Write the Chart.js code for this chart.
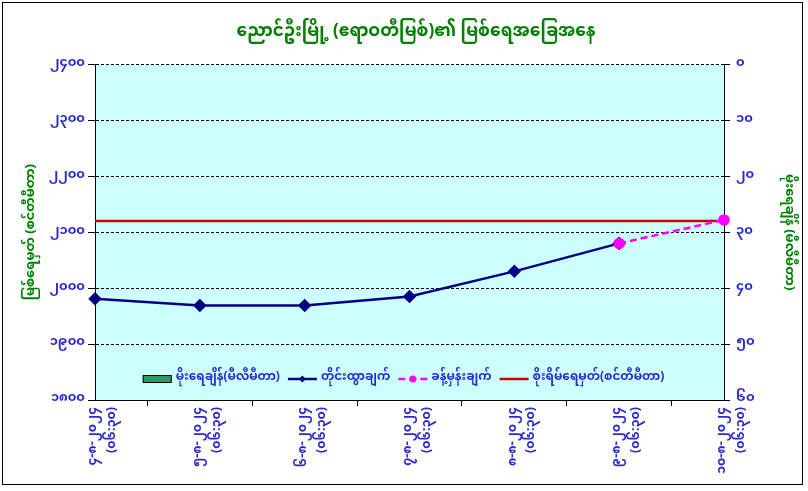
<!DOCTYPE html>
<html>
<head>
<meta charset="utf-8">
<script src="https://cdn.jsdelivr.net/npm/chart.js@4.4.1/dist/chart.umd.min.js"></script>
<style>
  html, body { margin: 0; padding: 0; background: #fff; }
  #wrap { position: absolute; left: 0; top: 0; width: 808px; height: 491px; }
</style>
</head>
<body>
<div id="wrap"><canvas id="graphic"></canvas></div>
<script>
// categories (date + time on two lines)
var categories = [
    ['၄-၈-၂၀၂၄', '(၀၆:၃၀)'],
    ['၅-၈-၂၀၂၄', '(၀၆:၃၀)'],
    ['၆-၈-၂၀၂၄', '(၀၆:၃၀)'],
    ['၇-၈-၂၀၂၄', '(၀၆:၃၀)'],
    ['၈-၈-၂၀၂၄', '(၀၆:၃၀)'],
    ['၉-၈-၂၀၂၄', '(၀၆:၃၀)'],
    ['၁၀-၈-၂၀၂၄', '(၀၆:၃၀)']
];
// series values
var rainfall = [null, null, null, null, null, null, null];
var observed = [1981, 1969, 1969, 1985, 2030, 2080, null];
var forecast = [null, null, null, null, null, 2080, 2122];
var danger = [2120, 2120, 2120, 2120, 2120, 2120, 2120];
// tick labels
var leftTickValues = [1800, 1900, 2000, 2100, 2200, 2300, 2400];
var leftTickLabels = ['၁၈၀၀', '၁၉၀၀', '၂၀၀၀', '၂၁၀၀', '၂၂၀၀', '၂၃၀၀', '၂၄၀၀'];
var rightTickValues = [0, 10, 20, 30, 40, 50, 60];
var rightTickLabels = ['၀', '၁၀', '၂၀', '၃၀', '၄၀', '၅၀', '၆၀'];

var MM = '"Noto Sans Myanmar", "Padauk", "Myanmar Text", "Noto Sans", sans-serif';
var blue = '#2a2ad0';
var green = '#008000';

function labelFor(values, labels, v) {
    var i = values.indexOf(v);
    return i < 0 ? '' : labels[i];
}

const frameAndBg = {
    id: 'frameAndBg',
    beforeDraw(chart) {
        var ctx = chart.ctx, a = chart.chartArea;
        ctx.save();
        ctx.fillStyle = '#ffffff';
        ctx.fillRect(0, 0, chart.width, chart.height);
        ctx.strokeStyle = '#000';
        ctx.lineWidth = 1;
        ctx.strokeRect(2.5, 2.5, 800, 482);
        ctx.fillStyle = '#ccffff';
        ctx.fillRect(a.left, a.top, a.right - a.left, a.bottom - a.top);
        ctx.restore();
    }
};

// legend drawn inside the plot area, near the bottom
const innerLegend = {
    id: 'innerLegend',
    afterDraw(chart) {
        var ctx = chart.ctx, a = chart.chartArea;
        var ds = chart.data.datasets;
        var order = [0, 1, 2, 3];
        var sym = 29, gap = 4, between = 8;
        ctx.save();
        ctx.font = 'bold 12px ' + MM;
        var widths = order.map(i => sym + gap + ctx.measureText(ds[i].label).width);
        var total = widths.reduce((s, w) => s + w, 0) + between * (order.length - 1);
        var x = (a.left + a.right) / 2 - total / 2 - 6;
        var y = a.bottom - 21;
        order.forEach((i, k) => {
            var d = ds[i];
            if (d.type === 'bar') {
                ctx.fillStyle = d.backgroundColor;
                ctx.fillRect(x, y - 3.5, sym, 7);
                ctx.strokeStyle = '#000';
                ctx.lineWidth = 1;
                ctx.strokeRect(x + 0.5, y - 3.5, sym - 1, 7);
            } else {
                ctx.strokeStyle = d.borderColor;
                ctx.lineWidth = d.borderWidth;
                ctx.setLineDash(d.borderDash || []);
                ctx.beginPath();
                ctx.moveTo(x, y);
                ctx.lineTo(x + sym, y);
                ctx.stroke();
                ctx.setLineDash([]);
                if (d.pointRadius > 0) {
                    ctx.fillStyle = d.pointBackgroundColor;
                    ctx.beginPath();
                    if (d.pointStyle === 'rectRot') {
                        var r = 3.5;
                        ctx.moveTo(x + sym / 2, y - r);
                        ctx.lineTo(x + sym / 2 + r, y);
                        ctx.lineTo(x + sym / 2, y + r);
                        ctx.lineTo(x + sym / 2 - r, y);
                        ctx.closePath();
                    } else {
                        ctx.arc(x + sym / 2, y, 3.5, 0, Math.PI * 2);
                    }
                    ctx.fill();
                }
            }
            ctx.fillStyle = blue;
            ctx.textBaseline = 'middle';
            ctx.textAlign = 'left';
            ctx.fillText(d.label, x + sym + gap, y);
            x += widths[k] + between;
        });
        ctx.restore();
    }
};

var data = {
    labels: categories,
    datasets: [
        {
            type: 'bar',
            label: 'မိုးရေချိန်(မီလီမီတာ)',
            data: rainfall,
            yAxisID: 'y1',
            backgroundColor: '#339966',
            borderColor: '#000',
            borderWidth: 1,
            order: 3
        },
        {
            type: 'line',
            label: 'တိုင်းထွာချက်',
            data: observed,
            yAxisID: 'y',
            borderColor: '#000080',
            backgroundColor: '#000080',
            pointBackgroundColor: '#000080',
            pointBorderColor: '#000080',
            pointStyle: 'rectRot',
            pointRadius: 5,
            borderWidth: 2.5,
            tension: 0,
            order: 1
        },
        {
            type: 'line',
            label: 'ခန့်မှန်းချက်',
            data: forecast,
            yAxisID: 'y',
            borderColor: '#ff00ff',
            backgroundColor: '#ff00ff',
            pointBackgroundColor: '#ff00ff',
            pointBorderColor: '#ff00ff',
            pointStyle: 'circle',
            pointRadius: 4.5,
            borderWidth: 2.5,
            borderDash: [7, 4],
            tension: 0,
            order: 0
        },
        {
            type: 'line',
            label: 'စိုးရိမ်ရေမှတ်(စင်တီမီတာ)',
            data: danger,
            yAxisID: 'y',
            borderColor: '#cc0000',
            backgroundColor: '#cc0000',
            pointRadius: 0,
            borderWidth: 2.5,
            tension: 0,
            order: 2
        }
    ]
};

var options = {
    responsive: false,
    animation: false,
    layout: { padding: { top: 10, left: 36, right: 12, bottom: 5 } },
    plugins: {
        legend: { display: false },
        tooltip: { enabled: false },
        title: {
            display: true,
            text: 'ညောင်ဦးမြို့ (ဧရာဝတီမြစ်)၏ မြစ်ရေအခြေအနေ',
            color: green,
            font: { family: MM, size: 17, weight: 'bold' },
            padding: { top: 14, bottom: 20 }
        }
    },
    scales: {
        x: {
            offset: false,
            grid: { display: true, drawOnChartArea: false, tickLength: 6, color: '#000' },
            border: { display: true, color: '#000', width: 1 },
            ticks: {
                color: blue,
                autoSkip: false,
                minRotation: 90,
                maxRotation: 90,
                padding: 1,
                font: { family: MM, size: 12.5, weight: 'bold', lineHeight: 1.5 }
            },
            afterFit(s) { s.height = 86; }
        },
        y: {
            position: 'left',
            min: 1800,
            max: 2400,
            ticks: {
                stepSize: 100,
                color: blue,
                padding: 3,
                font: { family: MM, size: 13, weight: 'bold' },
                callback: v => labelFor(leftTickValues, leftTickLabels, v)
            },
            grid: { color: '#000', lineWidth: 1, tickLength: 7, tickBorderDash: [] },
            border: { display: true, color: '#000', width: 1, dash: [3, 2] },
            title: {
                display: true,
                text: 'မြစ်ရေမှတ် (စင်တီမီတာ)',
                color: green,
                font: { family: MM, size: 13, weight: 'bold' },
                padding: { top: -11, bottom: 0 }
            },
            afterFit(s) { s.width = 59; }
        },
        y1: {
            position: 'right',
            reverse: true,
            min: 0,
            max: 60,
            ticks: {
                stepSize: 10,
                color: blue,
                padding: 6,
                font: { family: MM, size: 13, weight: 'bold' },
                callback: v => labelFor(rightTickValues, rightTickLabels, v)
            },
            grid: { drawOnChartArea: false, color: '#000', tickLength: 6 },
            border: { display: true, color: '#000', width: 1 },
            title: {
                display: true,
                text: 'မိုးရေချိန် (မီလီမီတာ)',
                color: green,
                font: { family: MM, size: 13, weight: 'bold' },
                padding: { top: 1, bottom: 0 }
            },
            afterFit(s) { s.width = 72; }
        }
    }
};

var ctx = document.getElementById('graphic');
ctx.width = 808;
ctx.height = 491;
var myChart = new Chart(ctx, {
    data: data,
    options: options,
    plugins: [frameAndBg, innerLegend]
});
</script>
</body>
</html>
